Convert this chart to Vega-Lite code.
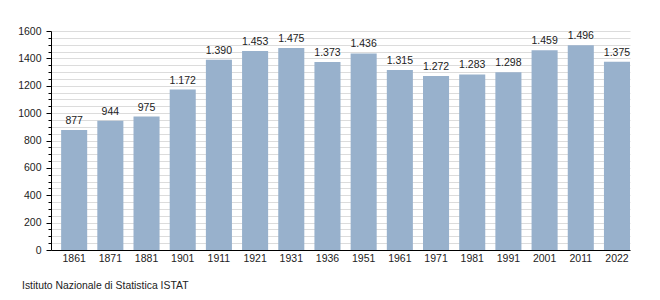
{
  "$schema": "https://vega.github.io/schema/vega-lite/v6.json",
  "width": 579,
  "height": 219,
  "autosize": "none",
  "padding": {"left": 51, "top": 31, "right": 30, "bottom": 50},
  "config": {
    "locale": {"number": {"decimal": ",", "thousands": ".", "grouping": [3], "currency": ["€", ""]}},
    "view": {"stroke": null},
    "font": "Liberation Sans"
  },
  "title": {
    "text": "Istituto Nazionale di Statistica ISTAT",
    "orient": "bottom",
    "anchor": "start",
    "frame": "group",
    "dx": -29,
    "offset": 17,
    "fontSize": 10.4,
    "fontWeight": "normal",
    "color": "#222222",
    "font": "Liberation Sans"
  },
  "data": {
    "values": [
      {"year": "1861", "pop": 877},
      {"year": "1871", "pop": 944},
      {"year": "1881", "pop": 975},
      {"year": "1901", "pop": 1172},
      {"year": "1911", "pop": 1390},
      {"year": "1921", "pop": 1453},
      {"year": "1931", "pop": 1475},
      {"year": "1936", "pop": 1373},
      {"year": "1951", "pop": 1436},
      {"year": "1961", "pop": 1315},
      {"year": "1971", "pop": 1272},
      {"year": "1981", "pop": 1283},
      {"year": "1991", "pop": 1298},
      {"year": "2001", "pop": 1459},
      {"year": "2011", "pop": 1496},
      {"year": "2022", "pop": 1375}
    ]
  },
  "encoding": {
    "x": {
      "field": "year",
      "type": "ordinal",
      "sort": null,
      "scale": {"paddingInner": 0.28, "paddingOuter": 0.14, "align": 1},
      "axis": {
        "title": null,
        "labelAngle": 0,
        "ticks": false,
        "domainColor": "#000000",
        "domainWidth": 1,
        "labelFontSize": 10.5,
        "labelColor": "#222222",
        "labelPadding": 3
      }
    },
    "y": {
      "field": "pop",
      "type": "quantitative",
      "scale": {"domain": [0, 1600], "nice": false},
      "axis": {
        "title": null,
        "values": [0, 50, 100, 150, 200, 250, 300, 350, 400, 450, 500, 550, 600, 650, 700, 750, 800, 850, 900, 950, 1000, 1050, 1100, 1150, 1200, 1250, 1300, 1350, 1400, 1450, 1500, 1550, 1600],
        "format": "d",
        "labelExpr": "datum.value % 200 == 0 ? datum.label : ''",
        "labelOverlap": false,
        "tickSize": {"condition": {"test": "datum.value % 200 == 0", "value": 5}, "value": 3},
        "tickColor": "#000000",
        "domainColor": "#000000",
        "grid": true,
        "gridColor": "#dcdcdc",
        "labelFontSize": 10.5,
        "labelColor": "#222222",
        "labelPadding": 5
      }
    }
  },
  "layer": [
    {"mark": {"type": "bar", "color": "#98b1cc"}},
    {
      "mark": {"type": "text", "baseline": "bottom", "dy": -4, "fontSize": 10.5, "color": "#222222"},
      "encoding": {"text": {"field": "pop", "type": "quantitative", "format": ",d"}}
    }
  ]
}
